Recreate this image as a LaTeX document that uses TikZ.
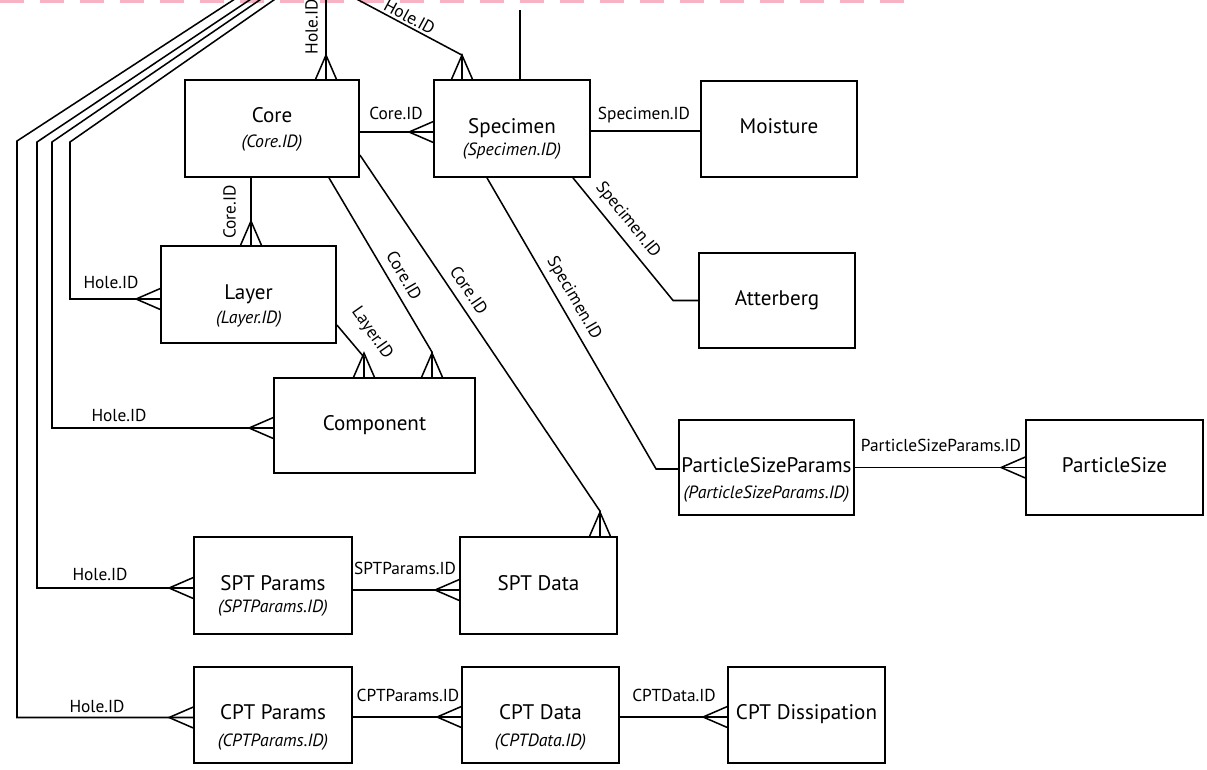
\documentclass[tikz,border=0pt]{standalone}
\usepackage{fontspec}
\setmainfont{PT Sans}
\usetikzlibrary{calc}
\newcommand\ttlfont{\fontsize{15.8}{18}\selectfont}
\newcommand\lblfont{\fontsize{13}{15}\selectfont}
\newcommand\subfont{\fontsize{13.3}{15}\selectfont\itshape}
\newcommand\crowft[2]{\draw[conn] ($(#2)!7.8pt!90:(#1)$) -- ($(#2)!18pt!(#1)$) -- ($(#2)!7.8pt!-90:(#1)$);}
\begin{document}
\begin{tikzpicture}[x=0.75pt,y=-0.75pt,
  box/.style={draw, line width=1.35pt, inner sep=0pt, font=\ttlfont, text height=0.7em, text depth=0pt},
  wh/.style 2 args={minimum width=#1*0.75pt, minimum height=#2*0.75pt},
  ttl/.style={font=\ttlfont, inner sep=0pt, text height=0.7em, text depth=0pt},
  sub/.style={font=\subfont, inner sep=0pt, text height=0.7em, text depth=0pt},
  lbl/.style={font=\lblfont, inner sep=0pt, text height=0.7em, text depth=0pt},
  conn/.style={line width=1.15pt, line join=miter},
  pinkdash/.style={line width=2.6pt, draw={rgb,255:red,247;green,178;blue,196}, dash pattern=on 18pt off 12pt},
]
\fill[white] (0,0) rectangle (1207,769);
\useasboundingbox (0,0) rectangle (1207,769);
\clip (0,0) rectangle (1207,769);

% top dashed boundary
\coordinate (pd0) at (0,1.5);
\coordinate (pd1) at (918,1.5);
\draw[pinkdash] (pd0) -- (pd1);

% boxes
\node[box, wh={174}{97}] (core) at (272,128.5) {};
\node[ttl] (coreT) at (272,118) {Core};
\node[sub] (coreS) at (272,143) {(Core.ID)};
\node[box, wh={156}{97}] (spec) at (512,128.5) {Specimen};
\node[sub] (specS) at (512,151) {(Specimen.ID)};
\node[box, wh={156}{96}] (moist) at (779,129) {Moisture};
\node[box, wh={175}{97}] (layer) at (248.5,294.5) {Layer};
\node[sub] (layerS) at (249,319) {(Layer.ID)};
\node[box, wh={156}{95}] (att) at (777,300.5) {Atterberg};
\node[box, wh={201}{95}] (comp) at (374.5,425.5) {Component};
\node[box, wh={175}{95}] (psp) at (766.5,467.5) {ParticleSizeParams};
\node[sub] (pspS) at (766.5,494) {(ParticleSizeParams.ID)};
\node[box, wh={177}{95}] (ps) at (1114.5,467.5) {ParticleSize};
\node[box, wh={158}{97}] (sptp) at (273,585.5) {SPT Params};
\node[sub] (sptpS) at (273,608) {(SPTParams.ID)};
\node[box, wh={157}{97}] (sptd) at (538.5,585.5) {SPT Data};
\node[box, wh={158}{96}] (cptp) at (273,715) {CPT Params};
\node[sub] (cptpS) at (273,742) {(CPTParams.ID)};
\node[box, wh={157}{96}] (cptd) at (540.5,715) {CPT Data};
\node[sub] (cptdS) at (540.5,742) {(CPTData.ID)};
\node[box, wh={157}{96}] (diss) at (806.5,715) {CPT Dissipation};

% Core -> Specimen
\coordinate (cs1) at ($(core.east)+(0,3.5)$);
\coordinate (cs2) at ($(spec.west)+(0,3.5)$);
\draw[conn] (cs1) -- (cs2); \crowft{cs1}{cs2}
\node[lbl] (lcs) at (396,115) {Core.ID};

% Core -> Layer
\coordinate (cl2) at ($(layer.north)+(2.5,0)$);
\coordinate (cl1) at (cl2 |- core.south);
\draw[conn] (cl1) -- (cl2); \crowft{cl1}{cl2}
\node[lbl, rotate=90] (lcl) at (231,212) {Core.ID};

% Core -> Component
\coordinate (cc0) at ($(core.south)+(57,0)$);
\coordinate (cc2) at ($(comp.north)+(57.5,0)$);
\coordinate (cc1) at ($(cc2)+(0,-25)$);
\draw[conn] (cc0) -- (cc1) -- (cc2); \crowft{cc1}{cc2}
\node[lbl, rotate=-59.7] (lcc) at (403,276) {Core.ID};

% Layer -> Component
\coordinate (lc0) at ($(layer.east)+(0,30.5)$);
\coordinate (lc2) at ($(comp.north)+(-10.5,0)$);
\coordinate (lc1) at ($(lc2)+(0,-20)$);
\draw[conn] (lc0) -- (lc1) -- (lc2); \crowft{lc1}{lc2}
\node[lbl, rotate=-55] (llc) at (372,333) {Layer.ID};

% Core -> SPT Data
\coordinate (cd0) at ($(core.east)+(0,26.5)$);
\coordinate (cd2) at ($(sptd.north)+(61.5,0)$);
\coordinate (cd1) at ($(cd2)+(0,-25)$);
\draw[conn] (cd0) -- (cd1) -- (cd2); \crowft{cd1}{cd2}
\node[lbl, rotate=-56] (lcd) at (468,291) {Core.ID};

% Hole -> Core
\coordinate (hc2) at ($(core.north)+(54,0)$);
\coordinate (hc1) at (hc2 |- 0,-5);
\draw[conn] (hc1) -- (hc2); \crowft{hc1}{hc2}
\node[lbl, rotate=90] (lhc) at (313,27) {Hole.ID};

% Hole -> Specimen
\coordinate (hs2) at ($(spec.north)+(-50,0)$);
\coordinate (hs1) at ($(hs2)+(0,-24)$);
\coordinate (hs0) at (349,-5);
\draw[conn] (hs0) -- (hs1) -- (hs2); \crowft{hs1}{hs2}
\node[lbl, rotate=-28.5] (lhs) at (409,18) {Hole.ID};

% Specimen top stub
\coordinate (st0) at (520,10);
\draw[conn] (st0) -- (st0 |- spec.north);

% Specimen -> Moisture
\coordinate (sm1) at ($(spec.east)+(0,2.5)$);
\draw[conn] (sm1) -- (sm1 -| moist.west);
\node[lbl] (lsm) at (644,115) {Specimen.ID};

% Specimen -> Atterberg
\coordinate (sa0) at ($(spec.south)+(61,0)$);
\coordinate (sa1) at ($(att.west)+(-25,0)$);
\draw[conn] (sa0) -- (sa1) -- (att.west);
\node[lbl, rotate=-51] (lsa) at (628,220) {Specimen.ID};

% Specimen -> ParticleSizeParams
\coordinate (sp0) at ($(spec.south)+(-25,0)$);
\coordinate (sp2) at ($(psp.west)+(0,1.5)$);
\coordinate (sp1) at ($(sp2)+(-22,0)$);
\draw[conn] (sp0) -- (sp1) -- (sp2);
\node[lbl, rotate=-60] (lsp) at (574,298) {Specimen.ID};

% ParticleSizeParams -> ParticleSize
\draw[conn] (psp.east) -- (ps.west); \crowft{psp.east}{ps.west}
\node[lbl] (lpp) at (941,447) {ParticleSizeParams.ID};

% SPT Params -> SPT Data
\coordinate (ss1) at ($(sptp.east)+(0,4.5)$);
\coordinate (ss2) at ($(sptd.west)+(0,4.5)$);
\draw[conn] (ss1) -- (ss2); \crowft{ss1}{ss2}
\node[lbl] (lss) at (405,570) {SPTParams.ID};

% CPT Params -> CPT Data
\coordinate (pc1) at ($(cptp.east)+(0,2)$);
\coordinate (pc2) at ($(cptd.west)+(0,2)$);
\draw[conn] (pc1) -- (pc2); \crowft{pc1}{pc2}
\node[lbl] (lpc) at (408,697) {CPTParams.ID};

% CPT Data -> CPT Dissipation
\coordinate (dd1) at ($(cptd.east)+(0,2)$);
\coordinate (dd2) at ($(diss.west)+(0,2)$);
\draw[conn] (dd1) -- (dd2); \crowft{dd1}{dd2}
\node[lbl] (ldd) at (674,697) {CPTData.ID};

% Hole lines from top-left
\coordinate (h1a) at (241,-5);
\coordinate (h1b) at (17,141);
\coordinate (h1e) at ($(cptp.west)+(0,2.5)$);
\coordinate (h1c) at (h1b |- h1e);
\draw[conn] (h1a) -- (h1b) -- (h1c) -- (h1e); \crowft{h1c}{h1e}
\node[lbl] (lh1) at (97,708) {Hole.ID};

\coordinate (h2a) at (257,-5);
\coordinate (h2b) at (37,142);
\coordinate (h2e) at ($(sptp.west)+(0,2.5)$);
\coordinate (h2c) at (h2b |- h2e);
\draw[conn] (h2a) -- (h2b) -- (h2c) -- (h2e); \crowft{h2c}{h2e}
\node[lbl] (lh2) at (100,576) {Hole.ID};

\coordinate (h3a) at (267,-5);
\coordinate (h3b) at (52,142);
\coordinate (h3e) at ($(comp.west)+(0,2.5)$);
\coordinate (h3c) at (h3b |- h3e);
\draw[conn] (h3a) -- (h3b) -- (h3c) -- (h3e); \crowft{h3c}{h3e}
\node[lbl] (lh3) at (119,417) {Hole.ID};

\coordinate (h4a) at (281,-5);
\coordinate (h4b) at (70,142);
\coordinate (h4e) at ($(layer.west)+(0,4.5)$);
\coordinate (h4c) at (h4b |- h4e);
\draw[conn] (h4a) -- (h4b) -- (h4c) -- (h4e); \crowft{h4c}{h4e}
\node[lbl] (lh4) at (111,284) {Hole.ID};
\end{tikzpicture}
\end{document}
